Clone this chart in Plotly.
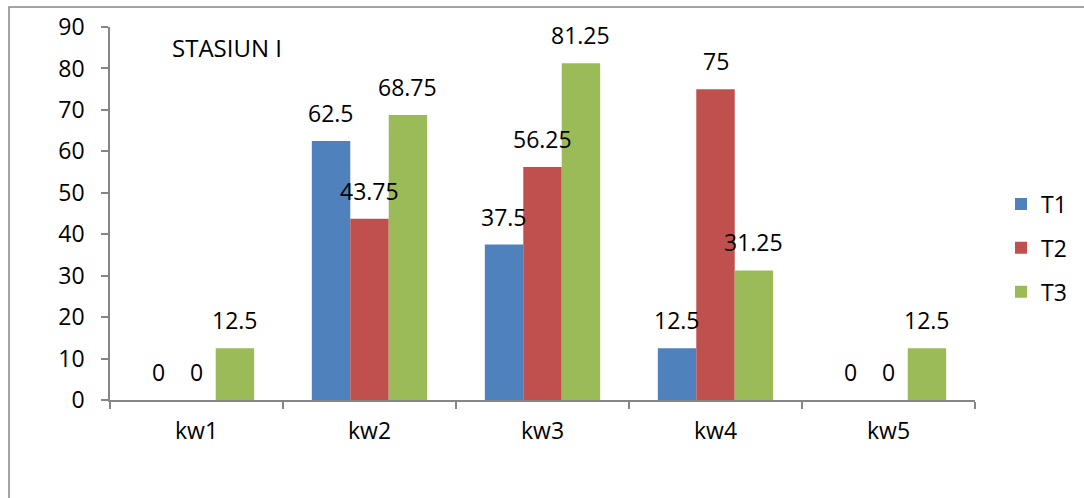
import plotly.graph_objects as go

categories = ["kw1", "kw2", "kw3", "kw4", "kw5"]
series_names = ["T1", "T2", "T3"]
t1_values = [0, 62.5, 37.5, 12.5, 0]
t2_values = [0, 43.75, 56.25, 75, 0]
t3_values = [12.5, 68.75, 81.25, 31.25, 12.5]
y_ticks = [0, 10, 20, 30, 40, 50, 60, 70, 80, 90]
chart_title = "STASIUN I"

colors = ["#4F81BD", "#C0504D", "#9BBB59"]
FONT = "Open Sans"
AXIS_GRAY = "#868686"

W, H = 1084, 498
L, R, T, B = 110, 109, 27, 98
plot_w, plot_h = W - L - R, H - T - B

bargap = 1 / 3
bar_w = (1 - bargap) / 3

fig = go.Figure()
all_series = [t1_values, t2_values, t3_values]
for k, (name, vals) in enumerate(zip(series_names, all_series)):
    fig.add_trace(go.Bar(
        x=categories, y=vals, name=name,
        marker=dict(color=colors[k], line=dict(width=0)),
        legendgroup=name,
    ))

# value labels above each bar
annotations = []
for k, vals in enumerate(all_series):
    for i, v in enumerate(vals):
        annotations.append(dict(
            x=i + (k - 1) * bar_w, y=v, xref="x", yref="y",
            text=f"{v:g}", showarrow=False, yshift=28,
            font=dict(family=FONT, size=23, color="#000000"),
        ))

# chart title inside plot area
annotations.append(dict(
    x=(170 - L) / plot_w, y=(H - B - 47) / plot_h, xref="paper", yref="paper",
    xanchor="left", yanchor="middle", text=chart_title, showarrow=False,
    font=dict(family=FONT, size=24, color="#000000"),
))

fig.update_layout(
    width=W, height=H,
    margin=dict(l=L, r=R, t=T, b=B, autoexpand=False),
    paper_bgcolor="white", plot_bgcolor="white",
    barmode="group", bargap=bargap, bargroupgap=0,
    annotations=annotations,
    font=dict(family=FONT, size=23, color="#000000"),
    legend=dict(
        x=(1001 - L) / plot_w, y=(H - B - 248) / plot_h,
        xanchor="left", yanchor="middle",
        font=dict(family=FONT, size=23),
        traceorder="grouped", tracegroupgap=11,
        itemwidth=30,
    ),
    shapes=[dict(
        type="rect", xref="paper", yref="paper",
        x0=(9 - L) / plot_w, x1=(1095 - L) / plot_w,
        y0=(H - B - 510) / plot_h, y1=(H - B - 7) / plot_h,
        line=dict(color=AXIS_GRAY, width=1.5), layer="below",
    )],
)

fig.update_xaxes(
    type="category", showgrid=False, showline=True, linecolor=AXIS_GRAY, linewidth=1.5,
    ticks="outside", tickson="boundaries", ticklen=7, tickcolor=AXIS_GRAY, tickwidth=1.5,
    ticklabelstandoff=10, tickfont=dict(family=FONT, size=23),
)
fig.update_yaxes(
    range=[0, 90], tickvals=y_ticks, showgrid=False, zeroline=False,
    showline=True, linecolor=AXIS_GRAY, linewidth=1.5,
    ticks="outside", ticklen=7, tickcolor=AXIS_GRAY, tickwidth=1.5,
    ticklabelstandoff=12, tickfont=dict(family=FONT, size=23),
)

fig.write_html("out.html")
